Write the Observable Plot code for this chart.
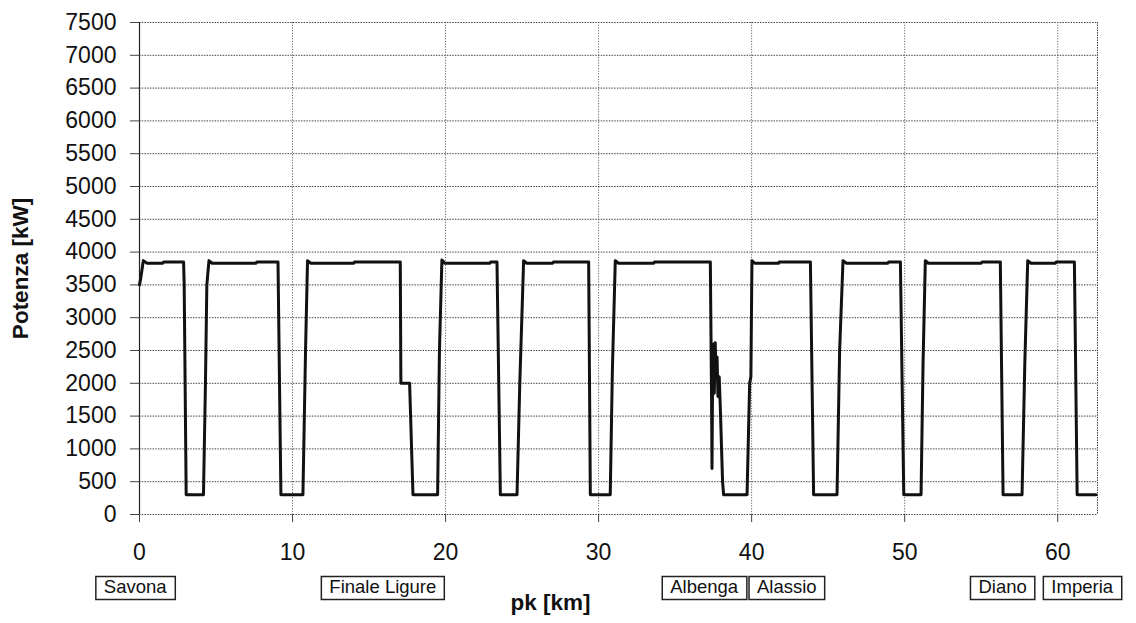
<!DOCTYPE html>
<html><head><meta charset="utf-8">
<script src="https://cdn.jsdelivr.net/npm/d3@7"></script>
<script src="https://cdn.jsdelivr.net/npm/@observablehq/plot@0.6"></script>
<style>
body{margin:0;background:#fff;}
</style></head><body><div id="chart"></div>
<script>
// pk [km]
const km = [
  0, 0.08, 0.25, 0.5, 1.5, 1.6, 2.88, 2.92, 3.05, 4.18, 4.31, 4.40, 4.54, 4.75, 7.6, 7.67, 9.05, 9.24,
  10.68, 10.85, 10.98, 11.2, 14.0, 14.05, 17.04, 17.08, 17.65, 17.87, 19.48, 19.6, 19.76, 19.95, 22.9, 22.95,
  23.36, 23.58, 24.67, 24.85, 25.10, 25.3, 27.0, 27.06, 29.35, 29.46, 30.76, 30.9, 31.09, 31.3, 33.6, 33.65,
  37.30, 37.38, 37.41, 37.44, 37.50, 37.56, 37.62, 37.68, 37.74, 37.80, 37.88, 37.95, 38.10, 38.17, 39.7, 39.87, 39.95,
  40.02, 40.2, 41.77, 41.8, 43.84, 44.05, 45.58, 45.75, 45.97, 46.2, 48.9, 48.95, 49.72, 49.94, 51.07, 51.2,
  51.35, 51.55, 55.0, 55.06, 56.25, 56.43, 57.67, 57.85, 58.04, 58.25, 59.85, 59.9, 61.09, 61.27, 62.5
];
// Potenza [kW]
const kw = [
  3500, 3600, 3870, 3830, 3830, 3850, 3850, 3500, 300, 300, 2000, 3500, 3870, 3830, 3830, 3850, 3850, 300,
  300, 2500, 3870, 3830, 3830, 3850, 3850, 2000, 2000, 300, 300, 2500, 3880, 3830, 3830, 3850,
  3850, 300, 300, 2000, 3870, 3830, 3830, 3850, 3850, 300, 300, 2200, 3870, 3830, 3830, 3850,
  3850, 1800, 700, 1800, 2600, 1850, 2620, 2100, 2400, 1800, 2100, 1650, 500, 300, 300, 2000, 2100,
  3870, 3830, 3830, 3850, 3850, 300, 300, 2500, 3870, 3830, 3830, 3850, 3850, 300, 300, 2300,
  3870, 3830, 3830, 3850, 3850, 300, 300, 2300, 3870, 3830, 3830, 3850, 3850, 300, 300
];
const yTicks = [0, 500, 1000, 1500, 2000, 2500, 3000, 3500, 4000, 4500, 5000, 5500, 6000, 6500, 7000, 7500];
const xTicks = [0, 10, 20, 30, 40, 50, 60];
const stationNames = ["Savona", "Finale Ligure", "Albenga", "Alassio", "Diano", "Imperia"];
const stationKm = [-0.28, 15.9, 36.9, 42.3, 56.4, 61.6];
const yLabel = "Potenza [kW]";
const xLabel = "pk [km]";

const data = km.map((k, i) => ({km: k, kw: kw[i]}));
const stations = stationNames.map((n, i) => ({name: n, km: stationKm[i]}));

const plot = Plot.plot({
  width: 1136, height: 623,
  marginLeft: 139, marginRight: 39, marginTop: 22, marginBottom: 109,
  style: {fontFamily: "'Liberation Sans', Arial, sans-serif", background: "#fff", color: "#111", overflow: "visible"},
  x: {domain: [0, 62.6]},
  y: {domain: [0, 7500]},
  marks: [
    Plot.gridY(yTicks, {stroke: "#444", strokeOpacity: 1, strokeDasharray: "1.5,1.2"}),
    Plot.gridX(xTicks.slice(1), {stroke: "#666", strokeOpacity: 1, strokeDasharray: "1.2,1.5"}),
    Plot.ruleX([62.6], {stroke: "#444", strokeDasharray: "1.5,1"}),
    Plot.ruleX([0], {stroke: "#222", strokeWidth: 1.2}),
    Plot.axisY(yTicks, {tickSize: 9, tickPadding: 14, fontSize: 23, label: null, stroke: "#444", tickFormat: d => String(d)}),
    Plot.axisX(xTicks, {tickSize: 8, tickPadding: 21, fontSize: 23, label: null, stroke: "#444", tickFormat: d => String(d)}),
    Plot.line(data, {x: "km", y: "kw", stroke: "#111", strokeWidth: 3, strokeLinejoin: "round", clip: false}),
    Plot.text(stations, {x: "km", text: "name", frameAnchor: "bottom", dy: 78, fontSize: 18.5, fill: "#111", className: "station"}),
    Plot.text([yLabel], {frameAnchor: "left", textAnchor: "middle", rotate: -90, dx: -119, fontSize: 22.5, fontWeight: "bold", fill: "#111"}),
    Plot.text([xLabel], {frameAnchor: "bottom", textAnchor: "middle", dx: -68, dy: 95, fontSize: 22.5, fontWeight: "bold", fill: "#111"})
  ]
});
document.getElementById("chart").appendChild(plot);

// boxes round the station labels
d3.select(plot).selectAll("g.station text").each(function() {
  const b = this.getBBox();
  const pad = 8;
  const r = document.createElementNS("http://www.w3.org/2000/svg", "rect");
  r.setAttribute("x", b.x - pad);
  r.setAttribute("y", b.y + 1);
  r.setAttribute("width", b.width + 2 * pad);
  r.setAttribute("height", b.height + 2);
  r.setAttribute("fill", "#fff");
  r.setAttribute("stroke", "#222");
  r.setAttribute("stroke-width", 1.5);
  const t = this.getAttribute("transform");
  if (t) r.setAttribute("transform", t);
  this.parentNode.insertBefore(r, this);
});
</script></body></html>
